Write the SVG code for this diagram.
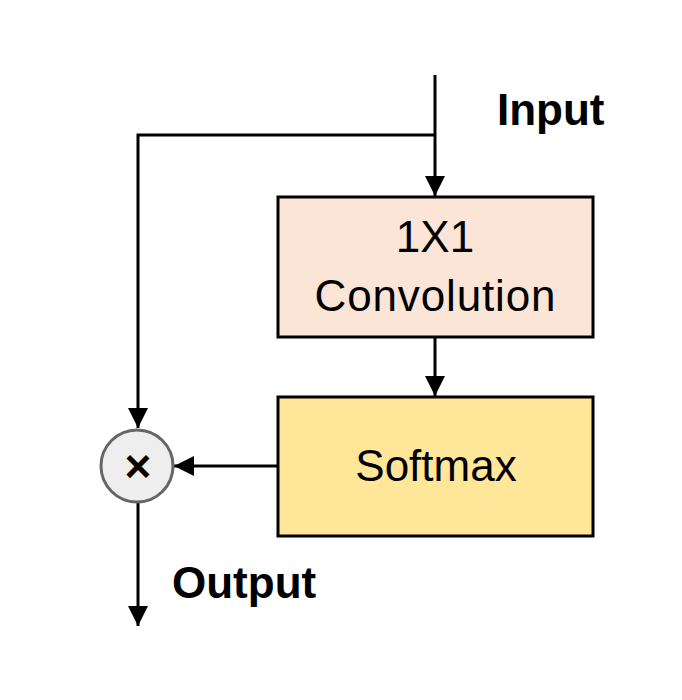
<svg xmlns="http://www.w3.org/2000/svg" width="682" height="700" viewBox="0 0 682 700">
<style>
.ln{stroke:#000;stroke-width:3;fill:none}
.box{stroke:#000;stroke-width:3}
.t{font-family:"Liberation Sans",Arial,sans-serif;font-size:44px;fill:#000}
.b{font-weight:bold}
</style>
<defs>
<marker id="ah" viewBox="0 0 20 20" refX="20" refY="10" markerWidth="20" markerHeight="20" markerUnits="userSpaceOnUse" orient="auto">
<path d="M0,0 L20,10 L0,20 Z" fill="#000"/>
</marker>
</defs>
<rect width="682" height="700" fill="#fff"/>
<g id="connectors">
<line class="ln" x1="435" y1="75" x2="435" y2="196" marker-end="url(#ah)"/>
<polyline class="ln" points="435,135 138,135 138,428" marker-end="url(#ah)"/>
<line class="ln" x1="435" y1="337" x2="435" y2="396" marker-end="url(#ah)"/>
<line class="ln" x1="278" y1="466" x2="174" y2="466" marker-end="url(#ah)"/>
<line class="ln" x1="138" y1="502" x2="138" y2="626" marker-end="url(#ah)"/>
</g>
<g id="conv">
<rect class="box" x="278" y="197" width="315" height="140" fill="#FBE5D6"/>
<text class="t" x="435" y="252" text-anchor="middle">1X1</text>
<text class="t" x="435" y="311" text-anchor="middle" textLength="241">Convolution</text>
</g>
<g id="softmax">
<rect class="box" x="278" y="397" width="315" height="139" fill="#FFE699"/>
<text class="t" x="436" y="481" text-anchor="middle">Softmax</text>
</g>
<g id="mult">
<circle cx="137" cy="466" r="36" fill="#EEEEEE" stroke="#666" stroke-width="3"/>
<text x="138" y="482" text-anchor="middle" style="font-family:'Liberation Sans',Arial,sans-serif;font-size:46px;font-weight:bold">×</text>
</g>
<g id="input-label"><text class="t b" x="497" y="125">Input</text></g>
<g id="output-label"><text class="t b" x="172" y="598">Output</text></g>
</svg>
